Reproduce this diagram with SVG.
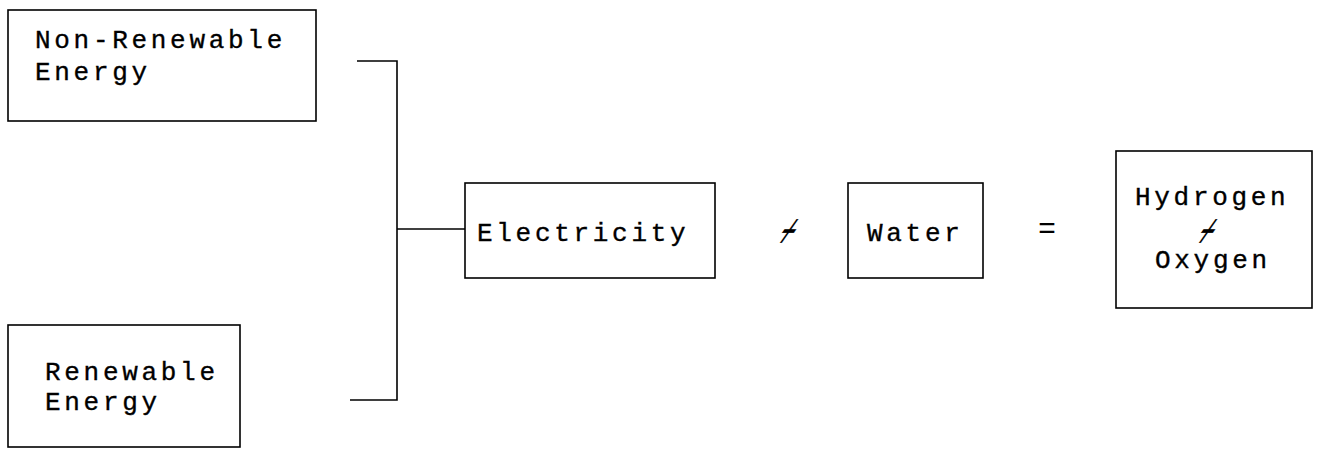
<svg xmlns="http://www.w3.org/2000/svg" width="1326" height="450" viewBox="0 0 1326 450">
<style>
.box{fill:#fff;stroke:#000;stroke-width:1.6}
.t{font-family:"Liberation Mono","Courier New",monospace;font-size:26px;letter-spacing:3.7px;fill:#000;stroke:#000;stroke-width:0.35}
.op{font-family:"Liberation Mono","Courier New",monospace;font-size:48px;fill:#000;stroke:#000;stroke-width:0.4}
.eq{font-family:"Liberation Mono","Courier New",monospace;font-size:30px;fill:#000}
.conn{fill:none;stroke:#000;stroke-width:1.6}
</style>
<rect width="1326" height="450" fill="#fff"/>
<g id="connectors">
<path class="conn" d="M357 61 H397 V400 H350"/>
<path class="conn" d="M397 229 H465"/>
</g>
<g id="nonrenewable">
<rect class="box" x="8" y="10" width="308" height="111"/>
<text class="t" x="35" y="48">Non-Renewable</text>
<text class="t" x="35" y="80">Energy</text>
</g>
<g id="renewable">
<rect class="box" x="8" y="325" width="232" height="122"/>
<text class="t" x="45" y="380">Renewable</text>
<text class="t" x="45" y="410">Energy</text>
</g>
<g id="electricity">
<rect class="box" x="465" y="183" width="250" height="95"/>
<text class="t" x="477" y="241">Electricity</text>
</g>
<g id="plus1">
<text class="op" transform="translate(778 247) skewX(-35) scale(0.5 1)" text-anchor="middle">+</text>
</g>
<g id="water">
<rect class="box" x="848" y="183" width="135" height="95"/>
<text class="t" x="867" y="241">Water</text>
</g>
<g id="equals">
<text class="eq" x="1047" y="238" text-anchor="middle">=</text>
</g>
<g id="hydrogen">
<rect class="box" x="1116" y="151" width="196" height="157"/>
<text class="t" x="1135" y="205">Hydrogen</text>
<text class="op" transform="translate(1197 247) skewX(-35) scale(0.5 1)" text-anchor="middle">+</text>
<text class="t" x="1155" y="268">Oxygen</text>
</g>
</svg>
